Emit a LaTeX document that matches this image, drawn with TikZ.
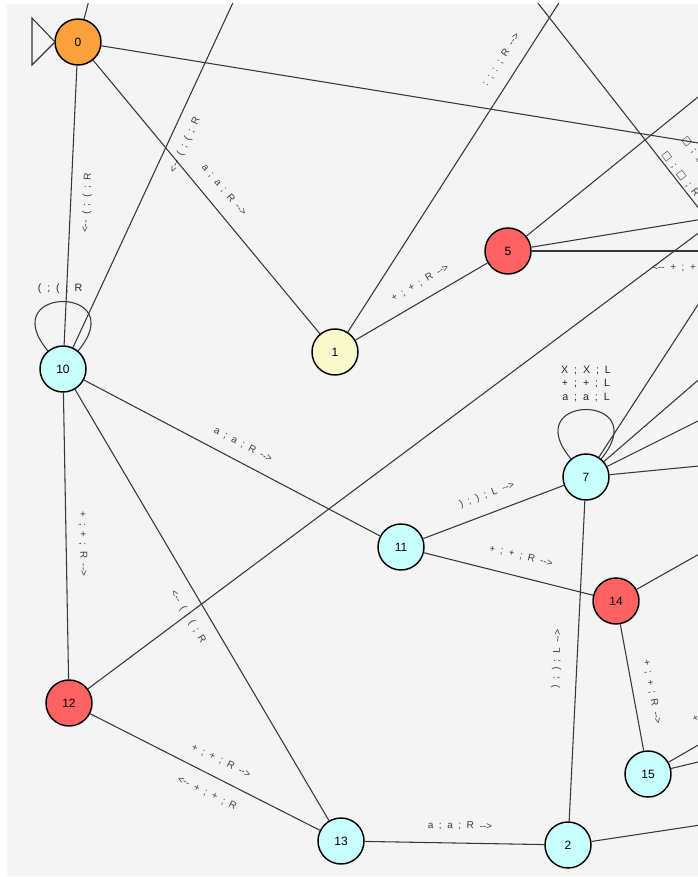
\documentclass[tikz,border=0pt]{standalone}
\usepackage{fontspec}
\setmainfont{Liberation Sans}
\newfontfamily\lblfont[WordSpace=2]{Liberation Sans}
\newfontfamily\symfont{DejaVu Sans}
\definecolor{bggray}{RGB}{244,244,244}
\definecolor{linegray}{RGB}{55,55,55}
\definecolor{labelgray}{RGB}{60,60,60}
\definecolor{stOrange}{RGB}{250,160,60}
\definecolor{stYellow}{RGB}{250,250,205}
\definecolor{stRed}{RGB}{255,98,98}
\definecolor{stCyan}{RGB}{200,255,255}
\tikzset{
  stnode/.style={circle, draw=black, line width=1.1pt, minimum size=34.5pt, inner sep=0pt, font=\fontsize{9}{10}\selectfont},
  ln/.style={draw=linegray, line width=0.8pt},
  lbl/.style={font=\lblfont\fontsize{7.5}{9}\selectfont, text=labelgray, inner sep=0pt},
  looplbl/.style={font=\lblfont\fontsize{8}{10}\selectfont, text=black!85, inner sep=0pt, align=center},
}
\begin{document}
\begin{tikzpicture}[x=0.75pt,y=-0.75pt]
\useasboundingbox (0,0) rectangle (698,877);
\fill[white] (0,0) rectangle (698,877);
\fill[bggray] (7,4) rectangle (698,876);
\begin{scope}
\clip (7,4) rectangle (698,876);
% states
\node[stnode, fill=stOrange] (n0) at (78,42) {0};
\node[stnode, fill=stYellow] (n1) at (335,352) {1};
\node[stnode, fill=stRed] (n5) at (508,251) {5};
\node[stnode, fill=stCyan] (n10) at (63,369) {10};
\node[stnode, fill=stCyan] (n7) at (586,477) {7};
\node[stnode, fill=stCyan] (n11) at (401,547) {11};
\node[stnode, fill=stRed] (n14) at (616,601) {14};
\node[stnode, fill=stRed] (n12) at (69,703) {12};
\node[stnode, fill=stCyan] (n15) at (648,774) {15};
\node[stnode, fill=stCyan] (n13) at (341,841) {13};
\node[stnode, fill=stCyan] (n2) at (568,845) {2};
% off-canvas ends
\coordinate (c0up) at (98,-34);
\coordinate (c0r) at (760,153);
\coordinate (c10up) at (250,-34);
\coordinate (c1up) at (580,-30);
\coordinate (cdA) at (512,-30);
\coordinate (cdB) at (740,261);
\coordinate (c5a) at (740,63);
\coordinate (c5b) at (740,213);
\coordinate (c5c) at (740,251);
\coordinate (c12) at (740,202);
\coordinate (c7a) at (740,240);
\coordinate (c7b) at (740,344);
\coordinate (c7c) at (740,400);
\coordinate (c7d) at (740,462);
\coordinate (c14) at (740,531);
\coordinate (c15a) at (740,721);
\coordinate (c15b) at (740,752);
\coordinate (c2) at (740,819);
% initial arrow
\draw[ln, fill=bggray] (32,18) -- (55,42) -- (32,65) -- cycle;
% connectors
\draw[ln] (n0) -- (c0up);
\draw[ln] (n0) -- (c0r);
\draw[ln] (n0) -- (n1);
\draw[ln] (n0) -- (n10);
\draw[ln] (n10) -- (c10up);
\draw[ln] (n1) -- (c1up);
\draw[ln] (cdA) -- (cdB);
\draw[ln] (n1) -- (n5);
\draw[ln] (n5) -- (c5a);
\draw[ln] (n5) -- (c5b);
\draw[ln] (n5) -- (c5c);
\draw[ln] (n12) -- (c12);
\draw[ln] (n7) -- (c7a);
\draw[ln] (n7) -- (c7b);
\draw[ln] (n7) -- (c7c);
\draw[ln] (n7) -- (c7d);
\draw[ln] (n10) -- (n11);
\draw[ln] (n11) -- (n7);
\draw[ln] (n11) -- (n14);
\draw[ln] (n10) -- (n12);
\draw[ln] (n10) -- (n13);
\draw[ln] (n12) -- (n13);
\draw[ln] (n13) -- (n2);
\draw[ln] (n7) -- (n2);
\draw[ln] (n14) -- (n15);
\draw[ln] (n14) -- (c14);
\draw[ln] (n15) -- (c15a);
\draw[ln] (n15) -- (c15b);
\draw[ln] (n2) -- (c2);
% loops
\draw[ln] ([shift={(-15,-18)}]n10.center) .. controls ([shift={(-70,-84)}]n10.center) and ([shift={(70,-84)}]n10.center) .. ([shift={(15,-18)}]n10.center);
\draw[ln] ([shift={(-15,-18)}]n7.center) .. controls ([shift={(-70,-84)}]n7.center) and ([shift={(70,-84)}]n7.center) .. ([shift={(15,-18)}]n7.center);
% labels
\node[looplbl] (lp10) at (60,289) {( ; ( ; R};
\node[looplbl] (lp7) at (586,384) {X ; X ; L\\+ ; + ; L\\a ; a ; L};
\node[lbl, rotate=-50.3] (l01) at (224,190) {a ; a ; R -->};
\node[lbl, rotate=87.4] (l010) at (87,203) {<-- ( ; ( ; R};
\node[lbl, rotate=65.1] (l10up) at (185,145) {<-- ( ; ( ; R};
\node[lbl, rotate=57.4] (l1up) at (501,60) {: ; : ; R -->};
\node[lbl, rotate=30.3] (l15) at (420,283) {+ ; + ; R -->};
\node[lbl, rotate=-27.9] (l1011) at (243,445) {a ; a ; R -->};
\node[lbl, rotate=20.8] (l117) at (487,495) {) ; ) ; L -->};
\node[lbl, rotate=-13.8] (l1114) at (521,556) {+ ; + ; R -->};
\node[lbl, rotate=-89] (l1012) at (83,544) {+ ; + ; R -->};
\node[lbl, rotate=-59.4] (l1013) at (188,617) {<-- ( ; ( ; R};
\node[lbl, rotate=-26.6] (l1213a) at (221,761) {+ ; + ; R -->};
\node[lbl, rotate=-26.6] (l1213b) at (207,793) {<-- + ; + ; R};
\node[lbl, rotate=-1.3] (l132) at (460,826) {a ; a ; R -->};
\node[lbl, rotate=87.2] (l72) at (557,659) {) ; ) ; L -->};
\node[lbl, rotate=-79.6] (l1415) at (652,692) {+ ; + ; R -->};
\node[lbl, anchor=west] (l5c) at (652,268) {<-- + ; + ; R};
\node[lbl, anchor=west, rotate=-52] (ldA) at (664,153) {{\symfont □} ; {\symfont □} ; R};
\node[lbl, anchor=west, rotate=-52] (ldB) at (684,138) {{\symfont □} ; {\symfont □} ; R};
\node[lbl, anchor=west, rotate=30] (l15a) at (693,720) {+ ; + ; R -->};
\end{scope}
\end{tikzpicture}
\end{document}
